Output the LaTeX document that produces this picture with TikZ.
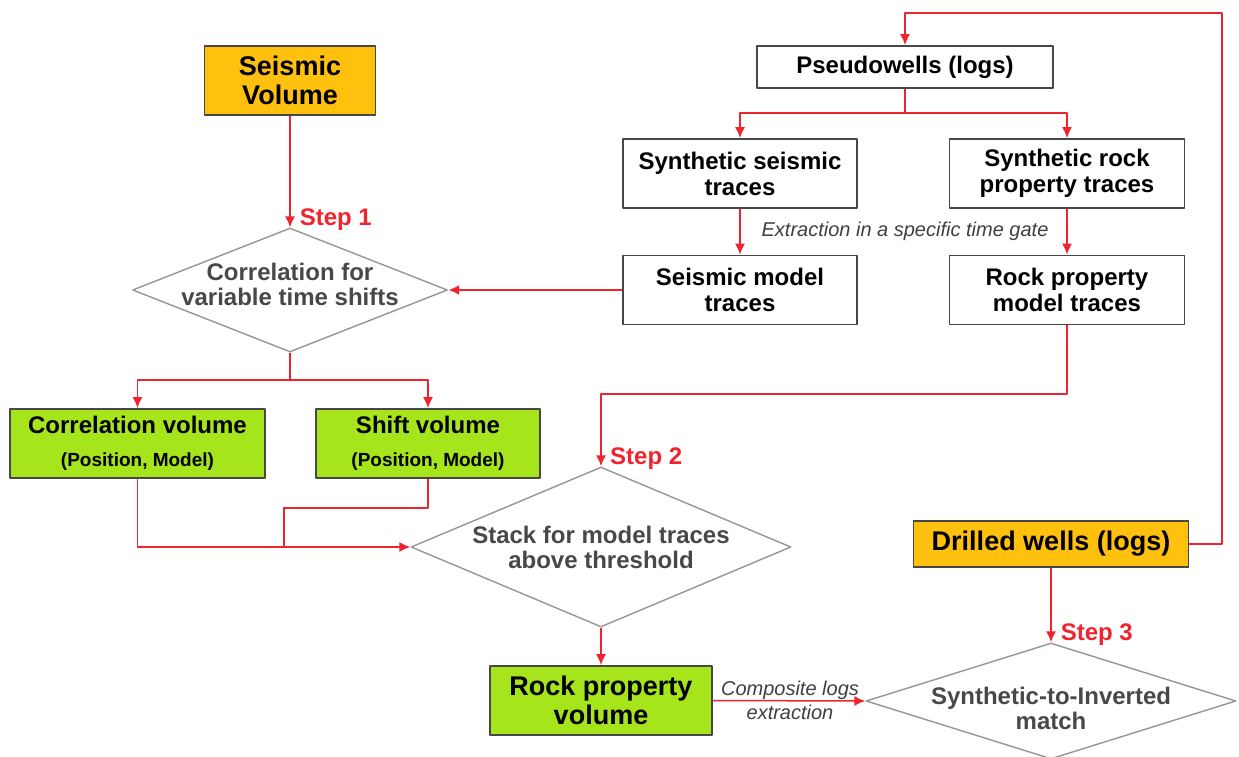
\documentclass[tikz,border=0pt]{standalone}
\usepackage{fontspec}
\setmainfont{Liberation Sans}
\usetikzlibrary{shapes.geometric,arrows.meta}
\definecolor{flowred}{RGB}{240,36,46}
\definecolor{volorange}{RGB}{255,193,14}
\definecolor{volgreen}{RGB}{166,228,28}
\definecolor{dmdgray}{RGB}{150,150,150}
\definecolor{txtgray}{RGB}{72,72,72}
\tikzset{
	box/.style={draw=black!72, line width=1.8pt, fill=white, inner sep=0pt, align=center, font=\bfseries\fontsize{24}{26}\selectfont},
	bigbox/.style={box, font=\bfseries\fontsize{27}{29}\selectfont},
	decision/.style={diamond, draw=dmdgray, line width=1.4pt, inner sep=0pt},
	dectext/.style={align=center, text=txtgray, font=\bfseries\fontsize{24}{25}\selectfont},
	link/.style={draw=flowred, line width=1.5pt},
	flow/.style={link, -{Latex[length=11pt,width=10pt]}},
	steplbl/.style={text=flowred, anchor=base west, inner sep=0pt, xshift=9pt, yshift=2pt, font=\bfseries\fontsize{24}{26}\selectfont},
	note/.style={align=center, text=black!75, font=\itshape\fontsize{20}{24}\selectfont}
}
\begin{document}
\begin{tikzpicture}[x=1pt, y=-1pt, line join=round]
	\fill[white] (0,0) rectangle (1239,757);
	\useasboundingbox (0,0) rectangle (1239,757);
	% left branch
	\node[bigbox, fill=volorange, minimum width=171pt, minimum height=69pt] (sv) at (290,80.5) {Seismic\\Volume};
	\node[decision, minimum width=315pt, minimum height=124pt] (corr) at (290,290) {};
	\node[dectext, yshift=6pt] (corrtxt) at (corr) {Correlation for\\variable time shifts};
	\node[box, fill=volgreen, minimum width=255pt, minimum height=69pt] (cv) at (137.5,443.5) {Correlation volume\\[7pt]{\fontsize{19}{21}\selectfont (Position, Model)}};
	\node[box, fill=volgreen, minimum width=224pt, minimum height=69pt] (shv) at (428,443.5) {Shift volume\\[7pt]{\fontsize{19}{21}\selectfont (Position, Model)}};
	\node[decision, minimum width=380pt, minimum height=160pt] (stk) at (601,547) {};
	\node[dectext] (stktxt) at (stk) {Stack for model traces\\above threshold};
	\node[bigbox, fill=volgreen, minimum width=222pt, minimum height=69pt] (rpv) at (601,700.5) {Rock property\\volume};
	% right branch
	\node[box, minimum width=296pt, minimum height=42pt] (pw) at (905,67) {Pseudowells (logs)};
	\node[box, minimum width=234pt, minimum height=69pt] (sst) at (740,173.5) {Synthetic seismic\\traces};
	\node[box, minimum width=235pt, minimum height=69pt] (srpt) at (1067,173.5) {Synthetic rock\\property traces};
	\node[box, minimum width=234pt, minimum height=69pt] (smt) at (740,290) {Seismic model\\traces};
	\node[box, minimum width=235pt, minimum height=69pt] (rpmt) at (1067,290) {Rock property\\model traces};
	\node[note] (gate) at (905,231) {Extraction in a specific time gate};
	\node[bigbox, fill=volorange, minimum width=275pt, minimum height=46pt] (dw) at (1051,544) {Drilled wells (logs)};
	\node[decision, minimum width=370pt, minimum height=116pt] (match) at (1051,701) {};
	\node[dectext, yshift=-7pt] (matchtxt) at (match) {Synthetic-to-Inverted\\match};
	\node[note] (complbl) at (790,700) {Composite logs\\extraction};
	% helper points
	\coordinate (split1) at (290,380);
	\coordinate (split2) at (905,113);
	\coordinate (jog) at (284,508);
	\coordinate (join) at (284,547);
	\coordinate (turn) at (1067,394);
	\coordinate (corner) at (1222,13);
	% connectors
	\draw[flow] (sv) -- (corr.north) node[steplbl] (step1) {Step 1};
	\draw[flow, line width=2.6pt] (smt.west) -- (corr.east);
	\draw[link] (corr.south) -- (split1);
	\draw[flow] (split1) -| (cv.north);
	\draw[flow] (split1) -| (shv.north);
	\draw[flow] (cv.south) |- (stk.west);
	\draw[link] (shv.south) |- (jog) -- (join);
	\draw[flow] (rpmt.south) -- (turn) -| (stk.north);
	\node[steplbl] (step2) at (stk.north) {Step 2};
	\draw[flow] (stk.south) -- (rpv.north);
	\draw[flow] (rpv.east) -- (match.west);
	\draw[flow] (dw.east) -| (corner) -| (pw.north);
	\draw[link] (pw.south) -- (split2);
	\draw[flow] (split2) -| (sst.north);
	\draw[flow] (split2) -| (srpt.north);
	\draw[flow] (sst.south) -- (smt.north);
	\draw[flow] (srpt.south) -- (rpmt.north);
	\draw[flow] (dw.south) -- (match.north) node[steplbl] (step3) {Step 3};
\end{tikzpicture}
\end{document}
